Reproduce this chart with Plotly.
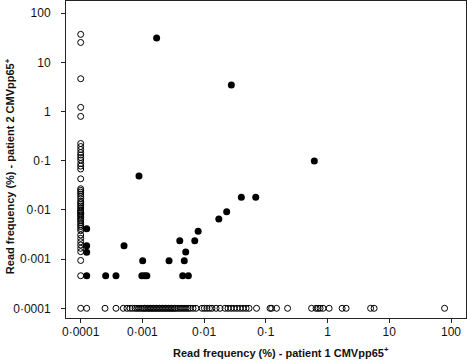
import plotly.graph_objects as go

# Shared clonotypes (filled): read frequency (%) in patient 1 vs patient 2
shared_p1 = [0.0017, 0.0276, 0.61, 0.00088, 0.000125, 0.000125, 0.000125, 0.000125,
             0.000254, 0.000373, 0.000504, 0.00101, 0.00098, 0.00108, 0.00118,
             0.0027, 0.00403, 0.00477, 0.00503, 0.0045, 0.00555, 0.00705, 0.008,
             0.0173, 0.0232, 0.0401, 0.0686]
shared_p2 = [31.4, 3.5, 0.099, 0.049, 0.00416, 0.00187, 0.00138, 0.00046,
             0.00046, 0.00046, 0.00187, 0.00093, 0.00046, 0.00046, 0.00046,
             0.00093, 0.00237, 0.00093, 0.0014, 0.00046, 0.00046, 0.00237, 0.00368,
             0.00655, 0.0092, 0.0181, 0.0181]

# Clonotypes found only in patient 2 (plotted at detection floor on x)
only_p2 = [37.3, 25.5, 4.67, 1.22, 0.80, 0.225, 0.195, 0.170, 0.147, 0.131, 0.117,
           0.104, 0.088, 0.078, 0.068, 0.043, 0.027, 0.025, 0.023, 0.021, 0.019,
           0.017, 0.015, 0.014, 0.013, 0.012, 0.011, 0.010, 0.0095, 0.009, 0.0085,
           0.008, 0.0075, 0.007, 0.0065, 0.006, 0.0055, 0.005, 0.0046, 0.0042,
           0.0038, 0.0031, 0.00265, 0.00226, 0.00194, 0.00166, 0.00142, 0.00094,
           0.00046, 0.0001]

# Clonotypes found only in patient 1 (plotted at detection floor on y)
only_p1 = [0.000125, 0.000248, 0.000373, 0.00049, 0.000563, 0.00063, 0.000691,
           0.000759, 0.000817, 0.000881, 0.000949, 0.00102, 0.00108, 0.00114,
           0.00121, 0.00128, 0.00135, 0.00143, 0.00151, 0.0016, 0.00169, 0.00179,
           0.00189, 0.002, 0.00212, 0.00224, 0.00237, 0.0025, 0.00265, 0.0028,
           0.00296, 0.00313, 0.00331, 0.0035, 0.00378, 0.00407, 0.00438, 0.00472,
           0.00509, 0.00548, 0.00591, 0.00661, 0.00739, 0.00925, 0.0101, 0.0111,
           0.0122, 0.0134, 0.0156, 0.0181, 0.0218, 0.0244, 0.0273, 0.0305, 0.0341,
           0.0382, 0.0427, 0.0478, 0.0534, 0.0707, 0.117, 0.124, 0.149, 0.225,
           0.551, 0.652, 0.702, 0.756, 0.845, 1.06, 1.72, 2.0, 4.98, 5.68, 78.7]

floor_value = 0.0001

tick_vals = [0.0001, 0.001, 0.01, 0.1, 1, 10, 100]
tick_text = ["0·0001", "0·001", "0·01", "0·1", "1", "10", "100"]

fig = go.Figure()
fig.add_trace(go.Scatter(
    x=[floor_value] * len(only_p2), y=only_p2, mode="markers",
    marker=dict(symbol="circle-open", size=6, color="black", line=dict(width=1)),
    showlegend=False))
fig.add_trace(go.Scatter(
    x=only_p1, y=[floor_value] * len(only_p1), mode="markers",
    marker=dict(symbol="circle-open", size=6, color="black", line=dict(width=1)),
    showlegend=False))
fig.add_trace(go.Scatter(
    x=shared_p1, y=shared_p2, mode="markers",
    marker=dict(symbol="circle", size=7, color="black"),
    showlegend=False))

font_family = "Liberation Sans, Arial, sans-serif"
axis_common = dict(
    type="log", tickmode="array", tickvals=tick_vals, ticktext=tick_text,
    showgrid=False, zeroline=False, showline=True, mirror=True,
    linecolor="#222", linewidth=1, ticks="outside", ticklen=4,
    tickcolor="#222", tickfont=dict(family=font_family, size=12, color="#111"))

fig.update_layout(
    width=467, height=363,
    margin=dict(l=66, r=1, t=1, b=45, autoexpand=False),
    paper_bgcolor="white", plot_bgcolor="white",
    xaxis=dict(range=[-4.238, 2.243], ticklabelstandoff=-1, **axis_common),
    yaxis=dict(range=[-4.197, 2.25], ticklabelstandoff=8, **axis_common),
    annotations=[
        dict(text="<b>Read frequency (%) - patient 1 CMVpp65<sup>+</sup></b>",
             xref="paper", yref="paper", x=0.5375, y=-0.107, yanchor="middle",
             showarrow=False, font=dict(family=font_family, size=11, color="#111")),
        dict(text="<b>Read frequency (%) - patient 2 CMVpp65<sup>+</sup></b>",
             xref="paper", yref="paper", x=-0.14, y=0.479, xanchor="center",
             yanchor="middle", textangle=-90, showarrow=False,
             font=dict(family=font_family, size=11, color="#111")),
    ],
)

fig.write_html(
    "out.html",
    config={"displayModeBar": False},
    post_script="document.body.style.margin='0';document.body.style.padding='0';",
)
